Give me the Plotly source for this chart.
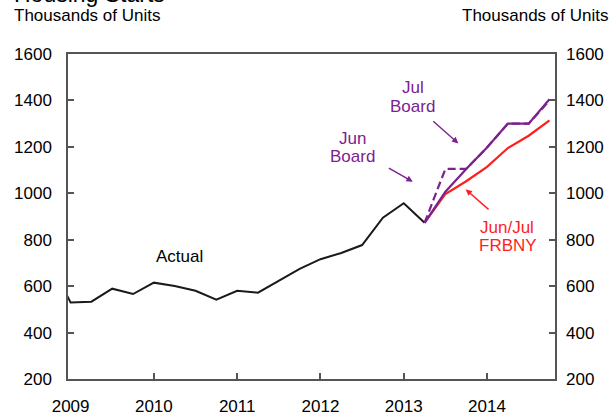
import plotly.graph_objects as go

# ---- data ----
actual_quarters = ["2008Q4", "2009Q1", "2009Q2", "2009Q3", "2009Q4",
                   "2010Q1", "2010Q2", "2010Q3", "2010Q4",
                   "2011Q1", "2011Q2", "2011Q3", "2011Q4",
                   "2012Q1", "2012Q2", "2012Q3", "2012Q4",
                   "2013Q1", "2013Q2"]
actual_values = [704, 530, 533, 589, 566, 615, 601, 580, 542, 580, 572,
                 622, 674, 716, 743, 777, 895, 957, 873]

forecast_quarters = ["2013Q2", "2013Q3", "2013Q4", "2014Q1", "2014Q2", "2014Q3", "2014Q4"]
frbny_values = [873, 997, 1052, 1114, 1195, 1248, 1314]
jul_board_values = [873, 1007, 1105, 1197, 1300, 1300, 1405]
jun_board_values = [873, 1105, 1105, 1197, 1300, 1300, 1400]

year_ticks = [2009, 2010, 2011, 2012, 2013, 2014]
y_ticks = [200, 400, 600, 800, 1000, 1200, 1400, 1600]


def qpos(q):
    return int(q[:4]) + (int(q[-1]) - 1) / 4.0


ax_x = [qpos(q) for q in actual_quarters]
fc_x = [qpos(q) for q in forecast_quarters]

FONT = "Liberation Sans, Arial, sans-serif"
PURPLE = "#7B2190"
RED = "#FF1E1E"
AXC = "#555555"

fig = go.Figure()
fig.add_trace(go.Scatter(x=ax_x, y=actual_values, mode="lines",
                         line=dict(color="#1a1a1a", width=2), hoverinfo="skip"))
fig.add_trace(go.Scatter(x=fc_x, y=frbny_values, mode="lines",
                         line=dict(color=RED, width=2.2), hoverinfo="skip"))
fig.add_trace(go.Scatter(x=fc_x, y=jul_board_values, mode="lines",
                         line=dict(color=PURPLE, width=2.2), hoverinfo="skip"))
fig.add_trace(go.Scatter(x=fc_x, y=jun_board_values, mode="lines",
                         line=dict(color=PURPLE, width=2.2, dash="8px,4px"), hoverinfo="skip"))
fig.add_trace(go.Scatter(x=[], y=[], yaxis="y2", hoverinfo="skip"))

tf = dict(family=FONT, size=17, color="#000000")

fig.update_layout(
    width=613, height=417,
    margin=dict(l=68, r=58, t=54, b=38, autoexpand=False),
    paper_bgcolor="white", plot_bgcolor="white",
    showlegend=False,
    xaxis=dict(range=[2008.969, 2014.816], tickmode="array", tickvals=year_ticks,
               ticktext=[str(y) for y in year_ticks], ticks="", showgrid=False,
               zeroline=False, showline=True, mirror=True, linecolor=AXC, linewidth=1.5,
               tickfont=tf, ticklabelstandoff=11, automargin=False,
               minor=dict(tickmode="array", tickvals=year_ticks[1:], ticks="inside",
                          ticklen=6, tickwidth=1.5, tickcolor=AXC, showgrid=False)),
    yaxis=dict(range=[200, 1600], tickmode="array", tickvals=y_ticks, ticks="inside",
               ticklen=6, tickwidth=1.5, tickcolor=AXC, showgrid=False, zeroline=False,
               showline=True, mirror=True, linecolor=AXC, linewidth=1.5,
               tickfont=tf, ticklabelstandoff=11, automargin=False),
    yaxis2=dict(range=[200, 1600], overlaying="y", side="right", tickmode="array",
                tickvals=y_ticks, ticks="inside", ticklen=6, tickwidth=1.5, tickcolor=AXC,
                showgrid=False, zeroline=False, showline=False,
                tickfont=tf, ticklabelstandoff=10, automargin=False),
)

ann = []
def label(text, x, y, color, size=17):
    ann.append(dict(text=text, x=x, y=y, xref="x", yref="y", showarrow=False,
                    font=dict(family=FONT, size=size, color=color),
                    xanchor="center", yanchor="middle"))

label("Actual", 2010.313, 726, "#000000")
label("Jun", 2012.379, 1237, PURPLE)
label("Board", 2012.379, 1158, PURPLE)
label("Jul", 2013.108, 1457, PURPLE)
label("Board", 2013.108, 1373, PURPLE)
label("Jun/Jul", 2014.236, 853, RED)
label("FRBNY", 2014.255, 773, RED)

def arrow(x, y, ax, ay, color):
    ann.append(dict(text="", x=x, y=y, ax=ax, ay=ay, xref="x", yref="y",
                    axref="x", ayref="y", showarrow=True, arrowhead=2,
                    arrowsize=0.9, arrowwidth=1.4, arrowcolor=color, standoff=0))

arrow(2013.108, 1050, 2012.803, 1112, PURPLE)
arrow(2013.655, 1215, 2013.336, 1316, PURPLE)
arrow(2013.744, 1017, 2014.036, 925, RED)

# header texts
ann.append(dict(text="Housing Starts", x=-0.115, y=1.185, xref="paper", yref="paper",
                showarrow=False, xanchor="left", yanchor="middle",
                font=dict(family=FONT, size=23, color="#000000")))
ann.append(dict(text="Thousands of Units", x=-0.115, y=1.117, xref="paper", yref="paper",
                showarrow=False, xanchor="left", yanchor="middle", font=tf))
ann.append(dict(text="Thousands of Units", x=1.113, y=1.117, xref="paper", yref="paper",
                showarrow=False, xanchor="right", yanchor="middle", font=tf))

fig.update_layout(annotations=ann)
fig.write_html("out.html", config={"displayModeBar": False},
               post_script="document.body.style.margin='0';document.body.style.padding='0';")
